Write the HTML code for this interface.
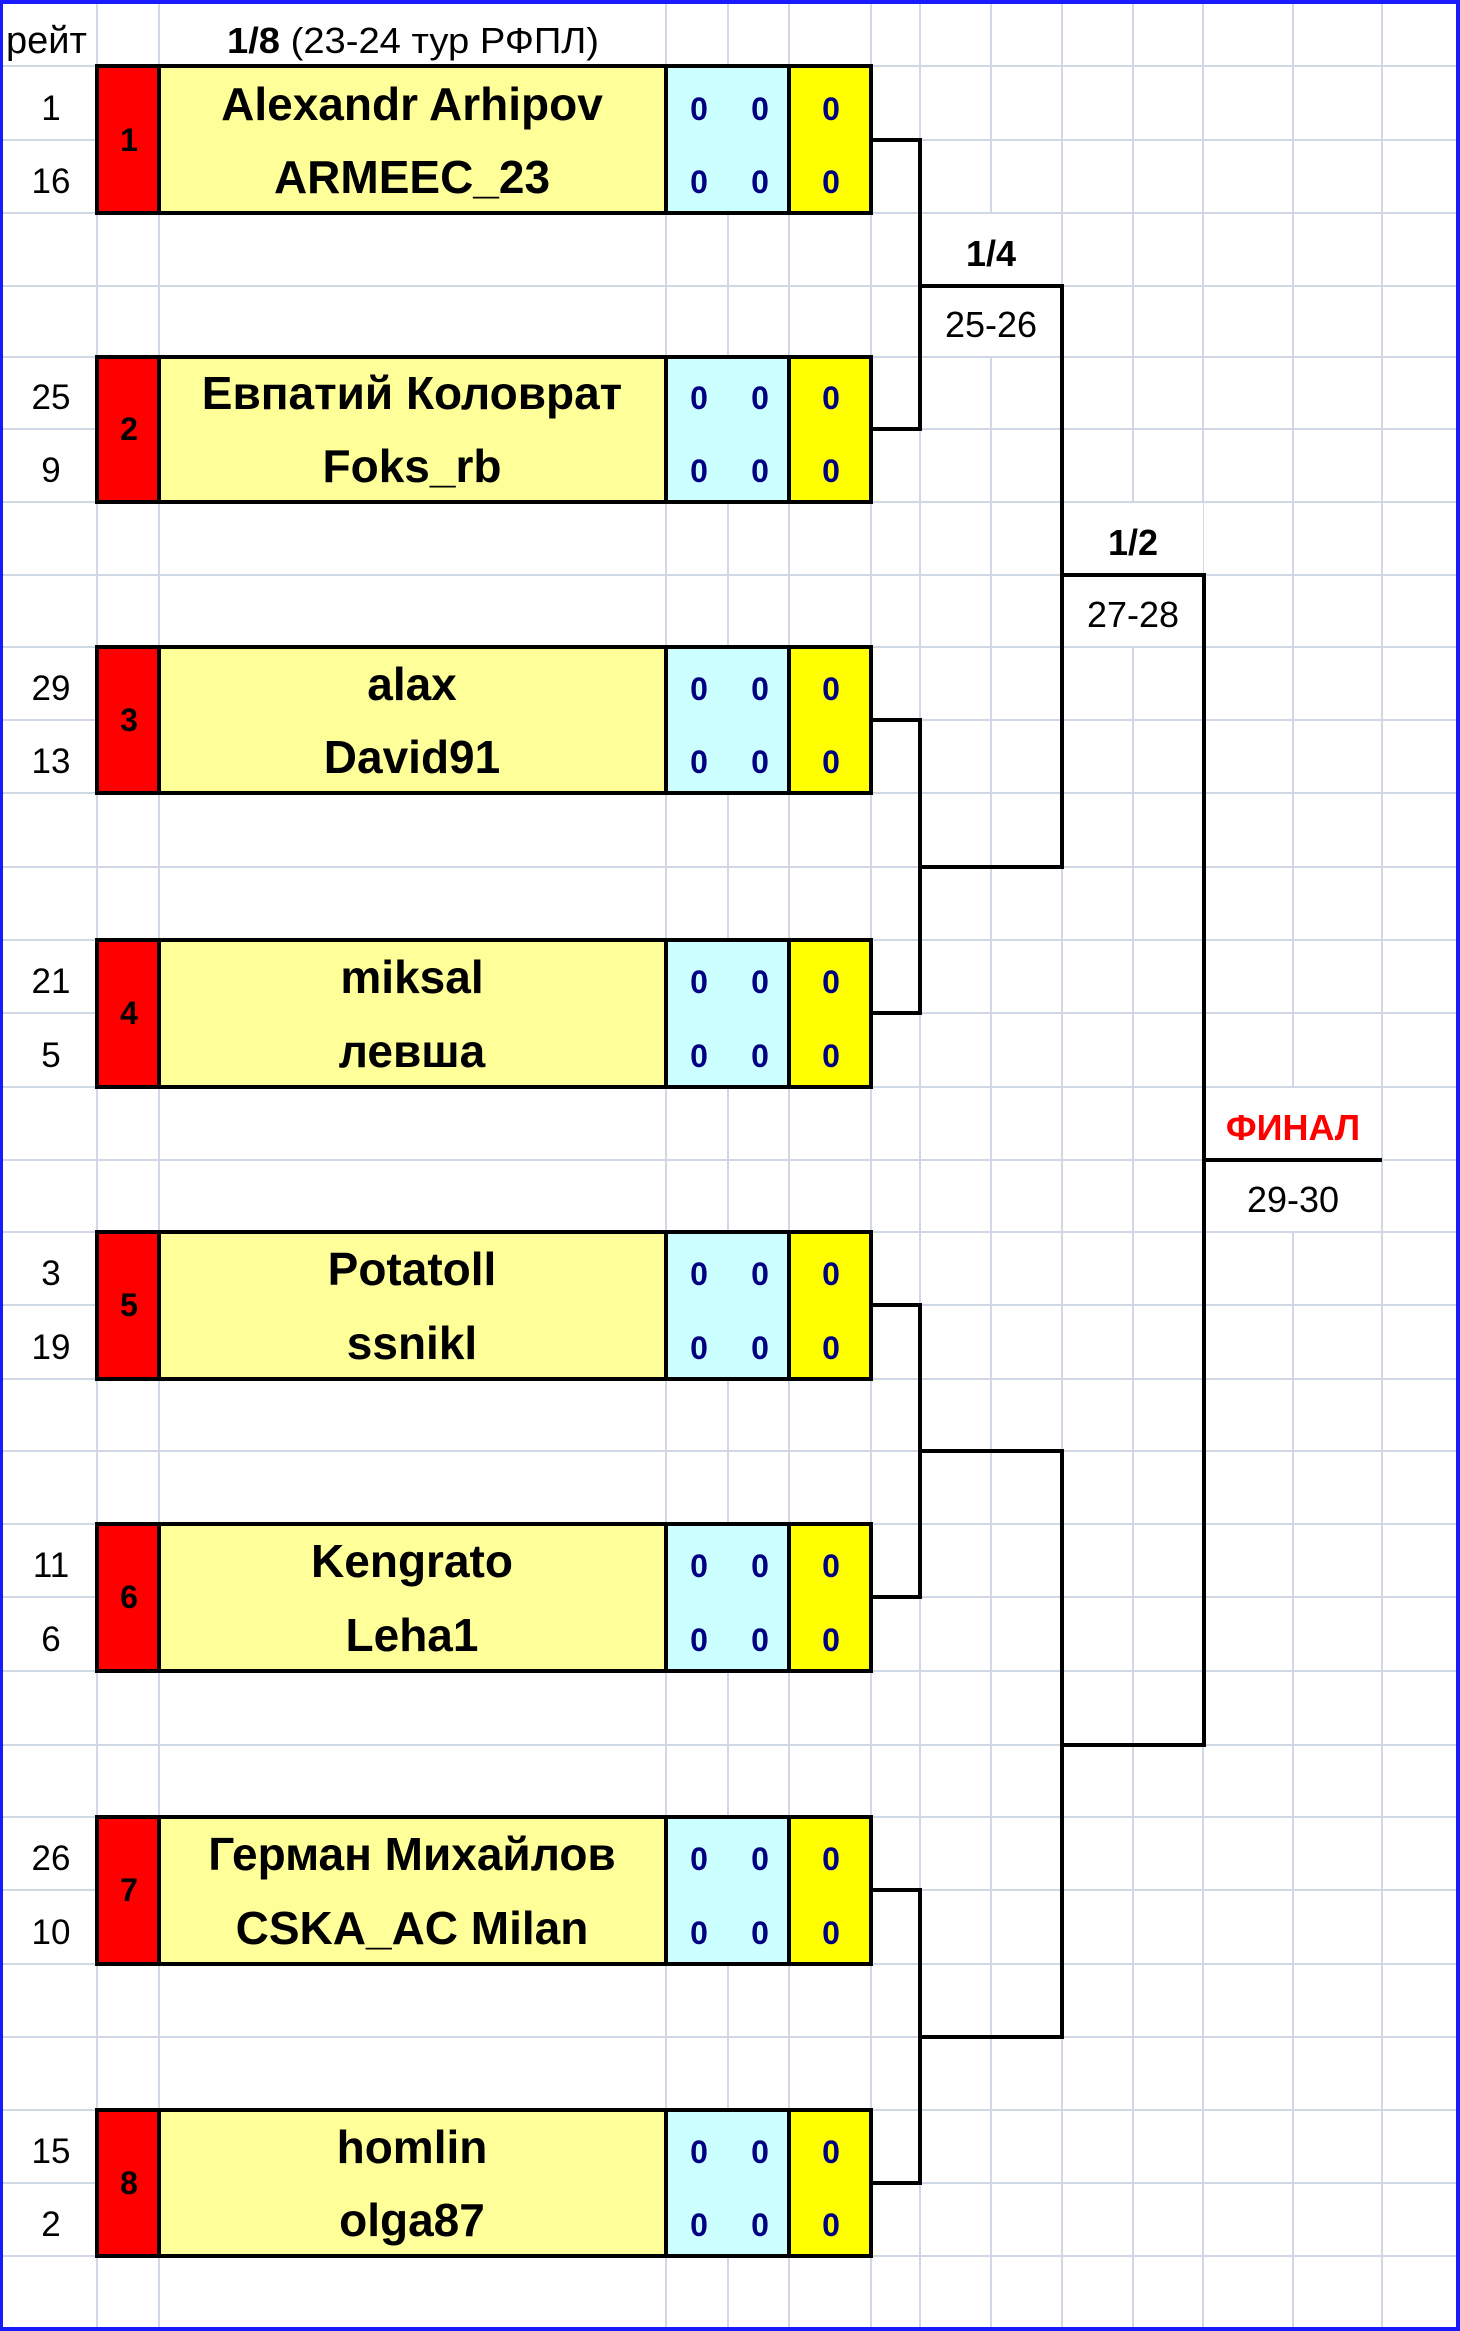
<!DOCTYPE html>
<html>
<head>
<meta charset="utf-8">
<style>
html,body{margin:0;padding:0;background:#fff;}
svg{display:block;}
</style>
</head>
<body>
<svg width="1460" height="2331" viewBox="0 0 1460 2331" xmlns="http://www.w3.org/2000/svg" font-family="'Liberation Sans', Arial, sans-serif">
<rect x="0" y="0" width="1460" height="2331" fill="#ffffff"/>

<!-- grid lines -->
<g stroke="#d0d7e5" stroke-width="2">
  <line x1="97" y1="0" x2="97" y2="2331"/>
  <line x1="159" y1="0" x2="159" y2="2331"/>
  <line x1="666" y1="0" x2="666" y2="2331"/>
  <line x1="728" y1="0" x2="728" y2="2331"/>
  <line x1="789" y1="0" x2="789" y2="2331"/>
  <line x1="871" y1="0" x2="871" y2="2331"/>
  <line x1="920" y1="0" x2="920" y2="2331"/>
  <line x1="991" y1="0" x2="991" y2="2331"/>
  <line x1="1062" y1="0" x2="1062" y2="2331"/>
  <line x1="1133" y1="0" x2="1133" y2="2331"/>
  <line x1="1203" y1="0" x2="1203" y2="2331"/>
  <line x1="1293" y1="0" x2="1293" y2="2331"/>
  <line x1="1382" y1="0" x2="1382" y2="2331"/>

  <line x1="0" y1="66" x2="1460" y2="66"/>
  <line x1="0" y1="140" x2="1460" y2="140"/>
  <line x1="0" y1="213" x2="1460" y2="213"/>
  <line x1="0" y1="286" x2="1460" y2="286"/>
  <line x1="0" y1="357" x2="1460" y2="357"/>
  <line x1="0" y1="429" x2="1460" y2="429"/>
  <line x1="0" y1="502" x2="1460" y2="502"/>
  <line x1="0" y1="575" x2="1460" y2="575"/>
  <line x1="0" y1="647" x2="1460" y2="647"/>
  <line x1="0" y1="720" x2="1460" y2="720"/>
  <line x1="0" y1="793" x2="1460" y2="793"/>
  <line x1="0" y1="867" x2="1460" y2="867"/>
  <line x1="0" y1="940" x2="1460" y2="940"/>
  <line x1="0" y1="1013" x2="1460" y2="1013"/>
  <line x1="0" y1="1087" x2="1460" y2="1087"/>
  <line x1="0" y1="1160" x2="1460" y2="1160"/>
  <line x1="0" y1="1232" x2="1460" y2="1232"/>
  <line x1="0" y1="1305" x2="1460" y2="1305"/>
  <line x1="0" y1="1379" x2="1460" y2="1379"/>
  <line x1="0" y1="1451" x2="1460" y2="1451"/>
  <line x1="0" y1="1524" x2="1460" y2="1524"/>
  <line x1="0" y1="1597" x2="1460" y2="1597"/>
  <line x1="0" y1="1671" x2="1460" y2="1671"/>
  <line x1="0" y1="1745" x2="1460" y2="1745"/>
  <line x1="0" y1="1817" x2="1460" y2="1817"/>
  <line x1="0" y1="1890" x2="1460" y2="1890"/>
  <line x1="0" y1="1964" x2="1460" y2="1964"/>
  <line x1="0" y1="2037" x2="1460" y2="2037"/>
  <line x1="0" y1="2110" x2="1460" y2="2110"/>
  <line x1="0" y1="2183" x2="1460" y2="2183"/>
  <line x1="0" y1="2256" x2="1460" y2="2256"/>
</g>

<!-- merged cell masks -->
<g fill="#ffffff">
  <rect x="921" y="214" width="140" height="142"/>
  <rect x="1063" y="503" width="140" height="143"/>
  <rect x="1205" y="1088" width="176" height="143"/>
</g>

<!-- header -->
<text x="6" y="53" font-size="38" fill="#000">рейт</text>
<text x="413" y="53" font-size="36" fill="#000" text-anchor="middle" textLength="372" lengthAdjust="spacingAndGlyphs"><tspan font-weight="bold">1/8</tspan> (23-24 тур РФПЛ)</text>

<!-- box fills -->
<g>
  <rect x="97" y="66" width="62" height="147" fill="#ff0000"/>
  <rect x="159" y="66" width="507" height="147" fill="#ffff99"/>
  <rect x="666" y="66" width="123" height="147" fill="#ccffff"/>
  <rect x="789" y="66" width="82" height="147" fill="#ffff00"/>

  <rect x="97" y="357" width="62" height="145" fill="#ff0000"/>
  <rect x="159" y="357" width="507" height="145" fill="#ffff99"/>
  <rect x="666" y="357" width="123" height="145" fill="#ccffff"/>
  <rect x="789" y="357" width="82" height="145" fill="#ffff00"/>

  <rect x="97" y="647" width="62" height="146" fill="#ff0000"/>
  <rect x="159" y="647" width="507" height="146" fill="#ffff99"/>
  <rect x="666" y="647" width="123" height="146" fill="#ccffff"/>
  <rect x="789" y="647" width="82" height="146" fill="#ffff00"/>

  <rect x="97" y="940" width="62" height="147" fill="#ff0000"/>
  <rect x="159" y="940" width="507" height="147" fill="#ffff99"/>
  <rect x="666" y="940" width="123" height="147" fill="#ccffff"/>
  <rect x="789" y="940" width="82" height="147" fill="#ffff00"/>

  <rect x="97" y="1232" width="62" height="147" fill="#ff0000"/>
  <rect x="159" y="1232" width="507" height="147" fill="#ffff99"/>
  <rect x="666" y="1232" width="123" height="147" fill="#ccffff"/>
  <rect x="789" y="1232" width="82" height="147" fill="#ffff00"/>

  <rect x="97" y="1524" width="62" height="147" fill="#ff0000"/>
  <rect x="159" y="1524" width="507" height="147" fill="#ffff99"/>
  <rect x="666" y="1524" width="123" height="147" fill="#ccffff"/>
  <rect x="789" y="1524" width="82" height="147" fill="#ffff00"/>

  <rect x="97" y="1817" width="62" height="147" fill="#ff0000"/>
  <rect x="159" y="1817" width="507" height="147" fill="#ffff99"/>
  <rect x="666" y="1817" width="123" height="147" fill="#ccffff"/>
  <rect x="789" y="1817" width="82" height="147" fill="#ffff00"/>

  <rect x="97" y="2110" width="62" height="146" fill="#ff0000"/>
  <rect x="159" y="2110" width="507" height="146" fill="#ffff99"/>
  <rect x="666" y="2110" width="123" height="146" fill="#ccffff"/>
  <rect x="789" y="2110" width="82" height="146" fill="#ffff00"/>
</g>

<!-- box borders -->
<g stroke="#000" stroke-width="4" fill="none">
  <rect x="97" y="66" width="774" height="147"/>
  <path d="M159 66V213M666 66V213M789 66V213"/>
  <rect x="97" y="357" width="774" height="145"/>
  <path d="M159 357V502M666 357V502M789 357V502"/>
  <rect x="97" y="647" width="774" height="146"/>
  <path d="M159 647V793M666 647V793M789 647V793"/>
  <rect x="97" y="940" width="774" height="147"/>
  <path d="M159 940V1087M666 940V1087M789 940V1087"/>
  <rect x="97" y="1232" width="774" height="147"/>
  <path d="M159 1232V1379M666 1232V1379M789 1232V1379"/>
  <rect x="97" y="1524" width="774" height="147"/>
  <path d="M159 1524V1671M666 1524V1671M789 1524V1671"/>
  <rect x="97" y="1817" width="774" height="147"/>
  <path d="M159 1817V1964M666 1817V1964M789 1817V1964"/>
  <rect x="97" y="2110" width="774" height="146"/>
  <path d="M159 2110V2256M666 2110V2256M789 2110V2256"/>
</g>

<!-- connectors -->
<g stroke="#000" stroke-width="4" fill="none" stroke-linejoin="miter">
  <path d="M871 140H920V429H871"/>
  <path d="M871 720H920V1013H871"/>
  <path d="M871 1305H920V1597H871"/>
  <path d="M871 1890H920V2183H871"/>
  <path d="M920 286H1062V867H920"/>
  <path d="M920 1451H1062V2037H920"/>
  <path d="M1062 575H1204V1745H1062"/>
  <path d="M1204 1160H1382"/>
</g>

<!-- ratings -->
<g font-size="35" fill="#000" text-anchor="middle">
  <text x="51" y="120">1</text>
  <text x="51" y="193">16</text>
  <text x="51" y="409">25</text>
  <text x="51" y="482">9</text>
  <text x="51" y="700">29</text>
  <text x="51" y="773">13</text>
  <text x="51" y="993">21</text>
  <text x="51" y="1067">5</text>
  <text x="51" y="1285">3</text>
  <text x="51" y="1359">19</text>
  <text x="51" y="1577">11</text>
  <text x="51" y="1651">6</text>
  <text x="51" y="1870">26</text>
  <text x="51" y="1944">10</text>
  <text x="51" y="2163">15</text>
  <text x="51" y="2236">2</text>
</g>

<!-- seeds -->
<g font-size="32" font-weight="bold" fill="#000" text-anchor="middle">
  <text x="129" y="151">1</text>
  <text x="129" y="440">2</text>
  <text x="129" y="731">3</text>
  <text x="129" y="1024">4</text>
  <text x="129" y="1316">5</text>
  <text x="129" y="1608">6</text>
  <text x="129" y="1901">7</text>
  <text x="129" y="2194">8</text>
</g>

<!-- names -->
<g font-size="46" font-weight="bold" fill="#000" text-anchor="middle">
  <text x="412" y="120">Alexandr Arhipov</text>
  <text x="412" y="193">ARMEEC_23</text>
  <text x="412" y="409">Евпатий Коловрат</text>
  <text x="412" y="482">Foks_rb</text>
  <text x="412" y="700">alax</text>
  <text x="412" y="773">David91</text>
  <text x="412" y="993">miksal</text>
  <text x="412" y="1067">левша</text>
  <text x="412" y="1285">Potatoll</text>
  <text x="412" y="1359">ssnikl</text>
  <text x="412" y="1577">Kengrato</text>
  <text x="412" y="1651">Leha1</text>
  <text x="412" y="1870">Герман Михайлов</text>
  <text x="412" y="1944">CSKA_AC Milan</text>
  <text x="412" y="2163">homlin</text>
  <text x="412" y="2236">olga87</text>
</g>

<!-- scores -->
<g font-size="32" font-weight="bold" fill="#000080" text-anchor="middle">
  <text x="699" y="120">0</text><text x="760" y="120">0</text><text x="831" y="120">0</text>
  <text x="699" y="193">0</text><text x="760" y="193">0</text><text x="831" y="193">0</text>
  <text x="699" y="409">0</text><text x="760" y="409">0</text><text x="831" y="409">0</text>
  <text x="699" y="482">0</text><text x="760" y="482">0</text><text x="831" y="482">0</text>
  <text x="699" y="700">0</text><text x="760" y="700">0</text><text x="831" y="700">0</text>
  <text x="699" y="773">0</text><text x="760" y="773">0</text><text x="831" y="773">0</text>
  <text x="699" y="993">0</text><text x="760" y="993">0</text><text x="831" y="993">0</text>
  <text x="699" y="1067">0</text><text x="760" y="1067">0</text><text x="831" y="1067">0</text>
  <text x="699" y="1285">0</text><text x="760" y="1285">0</text><text x="831" y="1285">0</text>
  <text x="699" y="1359">0</text><text x="760" y="1359">0</text><text x="831" y="1359">0</text>
  <text x="699" y="1577">0</text><text x="760" y="1577">0</text><text x="831" y="1577">0</text>
  <text x="699" y="1651">0</text><text x="760" y="1651">0</text><text x="831" y="1651">0</text>
  <text x="699" y="1870">0</text><text x="760" y="1870">0</text><text x="831" y="1870">0</text>
  <text x="699" y="1944">0</text><text x="760" y="1944">0</text><text x="831" y="1944">0</text>
  <text x="699" y="2163">0</text><text x="760" y="2163">0</text><text x="831" y="2163">0</text>
  <text x="699" y="2236">0</text><text x="760" y="2236">0</text><text x="831" y="2236">0</text>
</g>

<!-- round labels -->
<g font-size="36" text-anchor="middle" fill="#000">
  <text x="991" y="266" font-weight="bold">1/4</text>
  <text x="991" y="337">25-26</text>
  <text x="1133" y="555" font-weight="bold">1/2</text>
  <text x="1133" y="627">27-28</text>
  <text x="1293" y="1140" font-weight="bold" fill="#ff0000">ФИНАЛ</text>
  <text x="1293" y="1212">29-30</text>
</g>

<!-- outer blue frame -->
<g fill="#1a1aff">
  <rect x="0" y="0" width="1460" height="4"/>
  <rect x="0" y="0" width="3" height="2331"/>
  <rect x="1456" y="0" width="4" height="2331"/>
  <rect x="0" y="2327" width="1460" height="4"/>
</g>
</svg>
</body>
</html>
